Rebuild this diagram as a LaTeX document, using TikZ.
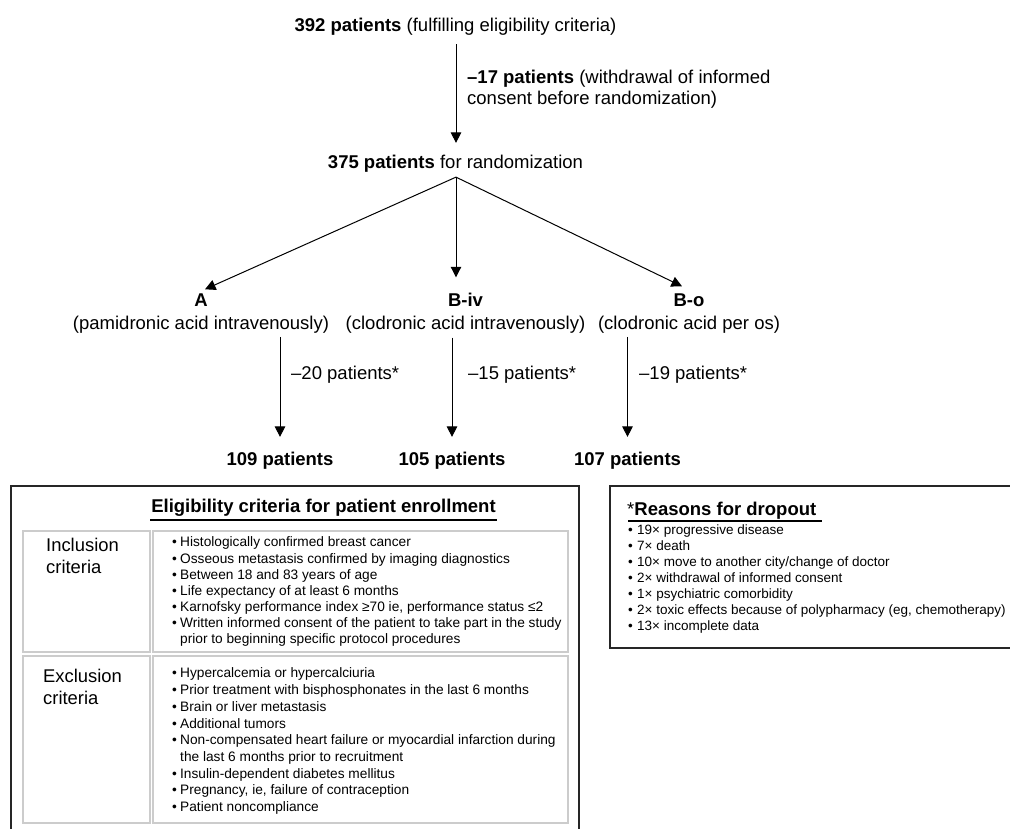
\documentclass[tikz,border=0pt]{standalone}
\usepackage{fontspec}
\setmainfont{Liberation Sans}
\usetikzlibrary{arrows.meta,calc}
\newcommand{\lbul}{\makebox[8pt][l]{•}}
\newcommand{\lind}{\hspace*{8pt}}
\newcommand{\dbul}{\makebox[9pt][l]{•}}
\begin{document}
\begin{tikzpicture}[x=1pt,y=-1pt,
  big/.style={font=\fontsize{18.5}{21}\selectfont, inner sep=0pt},
  bigb/.style={font=\bfseries\fontsize{18.5}{21}\selectfont, inner sep=0pt},
  branch/.style={font=\fontsize{18.5}{23}\selectfont, inner sep=0pt, align=center, anchor=north},
  lab/.style={font=\fontsize{18.4}{22}\selectfont, inner sep=0pt, align=left, anchor=north west},
  arr/.style={-{Triangle[width=10.5pt,length=10.5pt]}, line width=1pt},
  outer/.style={draw=black!85, line width=1.3pt},
  cell/.style={draw=black!20, line width=1.3pt},
  uline/.style={line width=1.3pt}
]
\useasboundingbox (0,0) rectangle (1010,829);
\clip (0,0) rectangle (1010,829);

% top flow
\node[big, anchor=base] (n392) at (455.5,31.5) {\textbf{392 patients} (fulfilling eligibility criteria)};
\node[big, anchor=north west, align=left] (n17) at (467,70) {\textbf{–17 patients} (withdrawal of informed\\consent before randomization)};
\node[big, anchor=base] (n375) at (455.5,168.5) {\textbf{375 patients} for randomization};
\draw[arr] ($(n392.south)+(0.5,8.6)$) -- ($(n375.north)+(0.5,-12)$);
\coordinate (apex) at ($(n375.south)+(0.5,4.6)$);

% branches
\node[branch] (nA) at (201,293.3) {\textbf{A}\\(pamidronic acid intravenously)};
\node[branch] (nBiv) at (465.5,293.3) {\textbf{B-iv}\\(clodronic acid intravenously)};
\node[branch] (nBo) at (689,293.3) {\textbf{B-o}\\(clodronic acid per os)};
\draw[arr] (apex) -- ($(nA.north)+(4,-4)$);
\draw[arr] (apex) -- ($(apex |- nBiv.north)+(0,-16)$);
\draw[arr] (apex) -- ($(nBo.north)+(-7,-7)$);

% results
\node[bigb, anchor=base] (n109) at (280,465.5) {109 patients};
\node[bigb, anchor=base] (n105) at (452,465.5) {105 patients};
\node[bigb, anchor=base] (n107) at (627.5,465.5) {107 patients};
\draw[arr] ($(nA.south -| n109.north)+(0,3.6)$) -- ($(n109.north)+(0,-15)$);
\draw[arr] ($(nBiv.south -| n105.north)+(0,3.6)$) -- ($(n105.north)+(0,-15)$);
\draw[arr] ($(nBo.south -| n107.north)+(0,3.6)$) -- ($(n107.north)+(0,-15)$);
\node[big, anchor=base west] (d20) at (291,379.5) {–20 patients*};
\node[big, anchor=base west] (d15) at (468,379.5) {–15 patients*};
\node[big, anchor=base west] (d19) at (639,379.5) {–19 patients*};

% eligibility box
\draw[outer] (11,486) rectangle (579,845);
\node[bigb, anchor=base] (etitle) at (323.5,512.5) {Eligibility criteria for patient enrollment};
\draw[uline] ($(etitle.base west)+(-1,7.5)$) -- ($(etitle.base east)+(1,7.5)$);
\draw[cell] (23,531) rectangle (150,652);
\draw[cell] (153,531) rectangle (568,652);
\draw[cell] (23,656) rectangle (150,823);
\draw[cell] (153,656) rectangle (568,823);
\node[lab] (inc) at (46,538) {Inclusion\\criteria};
\node[lab] (exc) at (43,669) {Exclusion\\criteria};
\node[inner sep=0pt, align=left, anchor=north west, font=\fontsize{13.7}{16.1}\selectfont] (inclist) at (172,536.8) {%
\lbul Histologically confirmed breast cancer\\
\lbul Osseous metastasis confirmed by imaging diagnostics\\
\lbul Between 18 and 83 years of age\\
\lbul Life expectancy of at least 6 months\\
\lbul Karnofsky performance index ≥70 ie, performance status ≤2\\
\lbul Written informed consent of the patient to take part in the study\\
\lind prior to beginning specific protocol procedures};
\node[inner sep=0pt, align=left, anchor=north west, font=\fontsize{13.7}{16.7}\selectfont] (exclist) at (172,667.8) {%
\lbul Hypercalcemia or hypercalciuria\\
\lbul Prior treatment with bisphosphonates in the last 6 months\\
\lbul Brain or liver metastasis\\
\lbul Additional tumors\\
\lbul Non-compensated heart failure or myocardial infarction during\\
\lind the last 6 months prior to recruitment\\
\lbul Insulin-dependent diabetes mellitus\\
\lbul Pregnancy, ie, failure of contraception\\
\lbul Patient noncompliance};

% dropout box
\draw[outer] (610,486) rectangle (1025,648);
\node[big, anchor=base west] (dtitle) at (627,515.5) {*\textbf{Reasons for dropout}};
\draw[uline] ($(dtitle.base west)+(1,5.5)$) -- ($(dtitle.base east)+(5,5.5)$);
\node[inner sep=0pt, align=left, anchor=north west, font=\fontsize{13.5}{16}\selectfont] (dlist) at (628,524.7) {%
\dbul 19× progressive disease\\
\dbul 7× death\\
\dbul 10× move to another city/change of doctor\\
\dbul 2× withdrawal of informed consent\\
\dbul 1× psychiatric comorbidity\\
\dbul 2× toxic effects because of polypharmacy (eg, chemotherapy)\\
\dbul 13× incomplete data};
\end{tikzpicture}
\end{document}
